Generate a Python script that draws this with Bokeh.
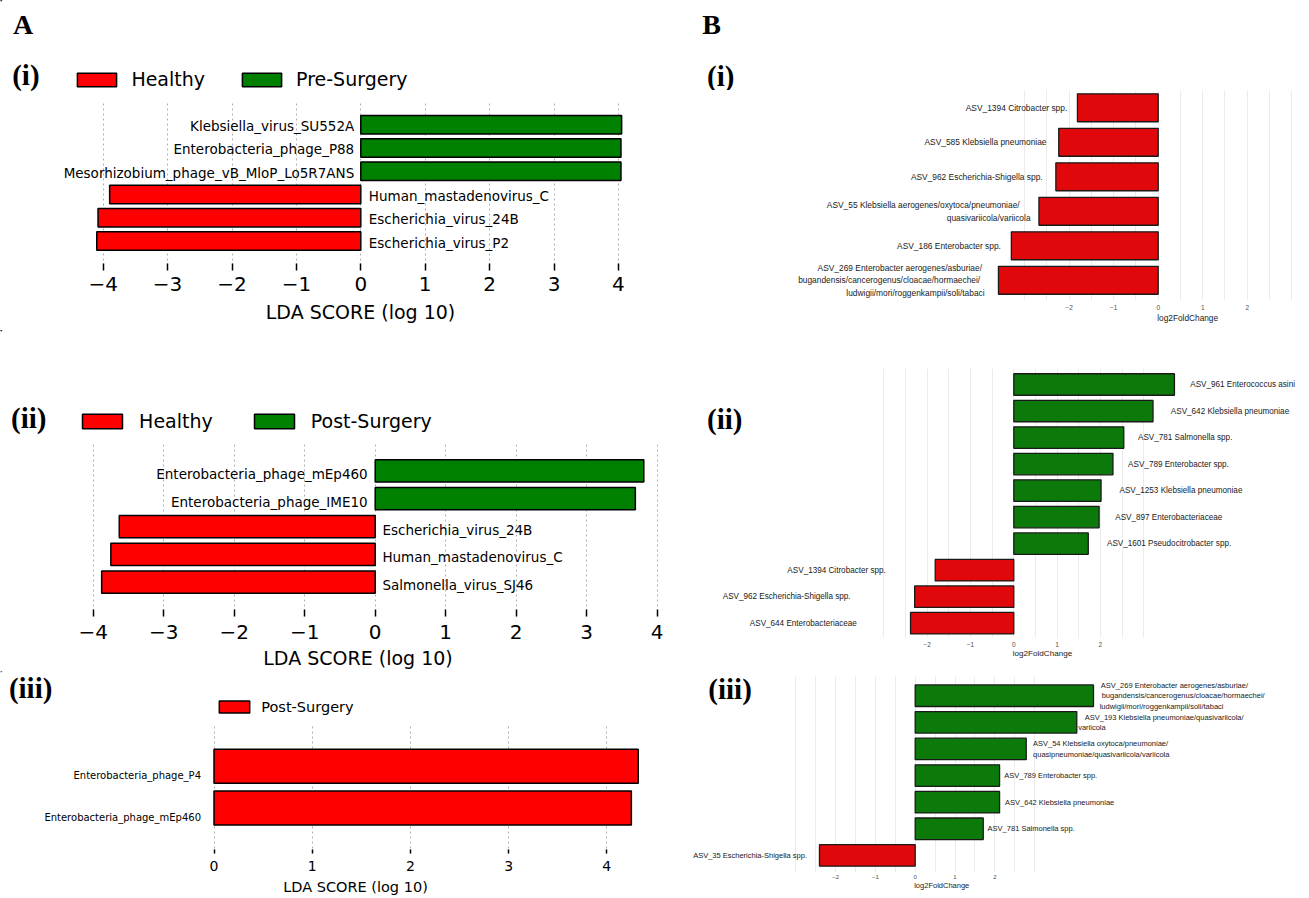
from bokeh.plotting import figure
from bokeh.layouts import row, column
from bokeh.models import (ColumnDataSource, FixedTicker, Label, Legend, LegendItem,
                          CustomJSTickFormatter, Range1d, Title)
from bokeh.core.properties import value
from bokeh.embed import file_html
from bokeh.resources import INLINE

# ======================= data =======================
# A: LEfSe LDA scores
a1_taxa = ["Klebsiella_virus_SU552A", "Enterobacteria_phage_P88",
           "Mesorhizobium_phage_vB_MloP_Lo5R7ANS", "Human_mastadenovirus_C",
           "Escherichia_virus_24B", "Escherichia_virus_P2"]
a1_lda = [4.05, 4.04, 4.04, -3.90, -4.08, -4.10]
a1_classes = ["Healthy", "Pre-Surgery"]

a2_taxa = ["Enterobacteria_phage_mEp460", "Enterobacteria_phage_IME10",
           "Escherichia_virus_24B", "Human_mastadenovirus_C", "Salmonella_virus_SJ46"]
a2_lda = [3.81, 3.69, -3.63, -3.75, -3.88]
a2_classes = ["Healthy", "Post-Surgery"]

a3_taxa = ["Enterobacteria_phage_P4", "Enterobacteria_phage_mEp460"]
a3_lda = [4.32, 4.25]
a3_classes = ["Post-Surgery"]

lda_ticks = [-4, -3, -2, -1, 0, 1, 2, 3, 4]
lda_ticks_pos = [0, 1, 2, 3, 4]

# B: log2 fold changes
b1_asv = ["ASV_1394 Citrobacter spp.",
          "ASV_585 Klebsiella pneumoniae",
          "ASV_962 Escherichia-Shigella spp.",
          "ASV_55 Klebsiella aerogenes/oxytoca/pneumoniae/\nquasivariicola/variicola",
          "ASV_186 Enterobacter spp.",
          "ASV_269 Enterobacter aerogenes/asburiae/\nbugandensis/cancerogenus/cloacae/hormaechei/\nludwigii/mori/roggenkampii/soli/tabaci"]
b1_lfc = [-1.815, -2.235, -2.30, -2.68, -3.30, -3.59]

b2_asv = ["ASV_961 Enterococcus asini",
          "ASV_642 Klebsiella pneumoniae",
          "ASV_781 Salmonella spp.",
          "ASV_789 Enterobacter spp.",
          "ASV_1253 Klebsiella pneumoniae",
          "ASV_897 Enterobacteriaceae",
          "ASV_1601 Pseudocitrobacter spp.",
          "ASV_1394 Citrobacter spp.",
          "ASV_962 Escherichia-Shigella spp.",
          "ASV_644 Enterobacteriaceae"]
b2_lfc = [3.71, 3.215, 2.54, 2.29, 2.015, 1.97, 1.72, -1.815, -2.29, -2.385]

b3_asv = ["ASV_269 Enterobacter aerogenes/asburiae/\nbugandensis/cancerogenus/cloacae/hormaechei/\nludwigii/mori/roggenkampii/soli/tabaci",
          "ASV_193 Klebsiella pneumoniae/quasivariicola/\nvariicola",
          "ASV_54 Klebsiella oxytoca/pneumoniae/\nquasipneumoniae/quasivariicola/variicola",
          "ASV_789 Enterobacter spp.",
          "ASV_642 Klebsiella pneumoniae",
          "ASV_781 Salmonella spp.",
          "ASV_35 Escherichia-Shigella spp."]
b3_lfc = [4.48, 4.06, 2.79, 2.12, 2.12, 1.71, -2.405]

lfc_ticks = [-2, -1, 0, 1, 2]
lfc_grid = [-3, -2.5, -2, -1.5, -1, -0.5, 0, 0.5, 1, 1.5, 2, 2.5, 3]

# ======================= style =======================
RED_A, GREEN_A = "#ff0000", "#008000"
RED_B, GREEN_B = "#e0080a", "#0b7a0b"
SANS_A = "DejaVu Sans"
SANS_B = "Liberation Sans"
SERIF = "Liberation Serif"
BASE_FIX = 8  # renderer places serif labels slightly low; compensate

ARIAL = {}
for chars, wd in [("abdeghnopqu0123456789_L", 556), ("cksvxyzJ", 500), ("ftI ./", 278),
                  ("ijl", 222), ("mM", 833), ("r-()", 333), ("wCDHNRU", 722),
                  ("ABEKPSVXY", 667), ("GOQ", 778), ("FTZ", 611), ("W", 944)]:
    for c in chars:
        ARIAL[c] = wd


def w_arial(s, size):
    return sum(ARIAL.get(c, 556) for c in s) / 1000.0 * size


def no_align(p):
    try:
        p.frame_align = False
    except Exception:
        pass


def make_panel(origin, size, frame, zero_x, unit_x, top_center, top_idx, unit_y):
    ox, oy = origin
    W, H = size
    fl, ft, fr, fb = frame
    xr = Range1d((fl - zero_x) / unit_x, (fr - zero_x) / unit_x)
    yr = Range1d(top_idx - (fb - top_center) / unit_y, top_idx + (top_center - ft) / unit_y)
    p = figure(width=W, height=H, x_range=xr, y_range=yr, title=None,
               min_border_left=int(round(fl - ox)), min_border_right=int(round(ox + W - fr)),
               min_border_top=int(round(ft - oy)), min_border_bottom=int(round(oy + H - fb)),
               toolbar_location=None, tools="", output_backend="svg",
               y_axis_location=None)
    no_align(p)
    p.outline_line_color = None
    p.background_fill_color = "white"
    p.border_fill_color = "white"
    for g in p.ygrid:
        g.visible = False
    p.xaxis.axis_line_color = None
    p.xaxis.minor_tick_line_color = None
    return p


def make_header(size):
    W, H = size
    p = figure(width=W, height=H, x_range=Range1d(0, W), y_range=Range1d(H, 0), title=None,
               min_border_left=0, min_border_right=0, min_border_top=0, min_border_bottom=0,
               x_axis_location=None, y_axis_location=None,
               toolbar_location=None, tools="", output_backend="svg")
    no_align(p)
    p.outline_line_color = None
    p.background_fill_color = "white"
    p.border_fill_color = "white"
    for g in list(p.xgrid) + list(p.ygrid):
        g.visible = False
    return p


def corner_hdr(p, origin, text, x, baseline, size):
    ox, oy = origin
    p.add_layout(Label(x=x - ox, y=baseline - oy - BASE_FIX, text=text, text_font=SERIF,
                       text_font_style="bold", text_font_size=size,
                       text_baseline="alphabetic", text_align="left", text_color="black"))


def corner_frame(p, frame, text, x, baseline, size):
    fl, ft, fr, fb = frame
    p.add_layout(Label(x=x - fl, y=fb - baseline + BASE_FIX, x_units="screen", y_units="screen",
                       text=text, text_font=SERIF, text_font_style="bold",
                       text_font_size=size, text_baseline="alphabetic", text_align="left",
                       text_color="black"))


def legend_hdr(p, origin, size, classes, colors, patch_x, patch_cy, pw, ph,
               standoff, spacing, font_size, lab_h):
    ox, oy = origin
    W, H = size
    items = []
    for cls, col in zip(classes, colors):
        # legend-only renderer: its single bar lies far outside the visible range
        dummy = p.hbar(y="y", left=0, right="v", height=1,
                       source=ColumnDataSource(dict(y=[-1000], v=[1])),
                       fill_color=col, line_color="black", line_width=1.5)
        items.append(LegendItem(label=cls, renderers=[dummy]))
    gx = patch_x - pw * 0.125 - ox
    bottom = (patch_cy - oy) + lab_h / 2.0
    leg = Legend(items=items, orientation="horizontal", location=(gx, H - bottom),
                 glyph_width=int(round(pw * 1.25)), glyph_height=int(round(ph * 1.25)),
                 label_standoff=standoff, spacing=spacing, padding=0, margin=0,
                 border_line_color=None, background_fill_alpha=0,
                 label_text_font=SANS_A, label_text_font_size=font_size,
                 label_text_color="black", label_height=int(lab_h))
    p.add_layout(leg)


minus_fmt = "return tick < 0 ? '\u2212' + Math.abs(tick) : String(tick);"


def a_panel(p, taxa, vals, colors, ticks, lab_size, neg_off, pos_off, yoff,
            tick_in, tick_size, title_size, tick_standoff, title_standoff, height):
    n = len(taxa)
    ys = [n - i for i in range(n)]
    neg = dict(y=[y for y, v in zip(ys, vals) if v < 0], v=[v for v in vals if v < 0])
    pos = dict(y=[y for y, v in zip(ys, vals) if v >= 0], v=[v for v in vals if v >= 0])
    if neg["y"]:
        p.hbar(y="y", left=0, right="v", height=height, source=ColumnDataSource(neg),
               fill_color=colors[0], line_color="black", line_width=1.5)
    if pos["y"]:
        p.hbar(y="y", left=0, right="v", height=height, source=ColumnDataSource(pos),
               fill_color=colors[-1], line_color="black", line_width=1.5)
    lt = dict(x=[0] * len(neg["y"]), y=neg["y"], t=[t for t, v in zip(taxa, vals) if v < 0])
    rt = dict(x=[0] * len(pos["y"]), y=pos["y"], t=[t for t, v in zip(taxa, vals) if v >= 0])
    if lt["y"]:
        p.text(x="x", y="y", text="t", source=ColumnDataSource(lt), x_offset=neg_off, y_offset=yoff,
               text_align="left", text_baseline="middle", text_font=value(SANS_A),
               text_font_size=value(lab_size), text_color="black")
    if rt["y"]:
        p.text(x="x", y="y", text="t", source=ColumnDataSource(rt), x_offset=pos_off, y_offset=yoff,
               text_align="right", text_baseline="middle", text_font=value(SANS_A),
               text_font_size=value(lab_size), text_color="black")
    ax = p.xaxis[0]
    ax.ticker = FixedTicker(ticks=ticks)
    ax.formatter = CustomJSTickFormatter(code=minus_fmt)
    ax.major_tick_in = tick_in
    ax.major_tick_out = 0
    ax.major_tick_line_color = "black"
    ax.major_tick_line_width = 1.5
    ax.major_label_text_font = SANS_A
    ax.major_label_text_font_size = tick_size
    ax.major_label_text_color = "black"
    ax.major_label_standoff = tick_standoff
    ax.axis_label = "LDA SCORE (log 10)"
    ax.axis_label_text_font = SANS_A
    ax.axis_label_text_font_size = title_size
    ax.axis_label_text_font_style = "normal"
    ax.axis_label_text_color = "black"
    ax.axis_label_standoff = title_standoff
    g = p.xgrid[0]
    g.ticker = FixedTicker(ticks=ticks)
    g.grid_line_color = "#b0b0b0"
    g.grid_line_dash = "2 3"
    g.grid_line_width = 1


def b_panel(p, labels, vals, size, lh, fneg, fpos, tick_size, tick_standoff,
            title_size, title_offset, title_standoff):
    n = len(labels)
    ys = [n - i for i in range(n)]
    neg = dict(y=[y for y, v in zip(ys, vals) if v < 0], v=[v for v in vals if v < 0])
    pos = dict(y=[y for y, v in zip(ys, vals) if v >= 0], v=[v for v in vals if v >= 0])
    if neg["y"]:
        p.hbar(y="y", left=0, right="v", height=0.81, source=ColumnDataSource(neg),
               fill_color=RED_B, line_color="#1a1a1a", line_width=1.3)
    if pos["y"]:
        p.hbar(y="y", left=0, right="v", height=0.81, source=ColumnDataSource(pos),
               fill_color=GREEN_B, line_color="#1a1a1a", line_width=1.3)
    L = dict(x=[], y=[], t=[], xo=[], yo=[])
    R = dict(x=[], y=[], t=[], xo=[], yo=[])
    for y, lab, v in zip(ys, labels, vals):
        lines = lab.split("\n")
        k = len(lines)
        for j, line in enumerate(lines):
            yo = (j - (k - 1) / 2.0) * lh
            if v < 0:
                d, xo = R, -fneg * w_arial(line, size)
            else:
                d, xo = L, fpos * w_arial(line, size)
            d["x"].append(v); d["y"].append(y); d["t"].append(line)
            d["xo"].append(xo); d["yo"].append(yo)
    for d, al in [(L, "left"), (R, "right")]:
        if d["y"]:
            p.text(x="x", y="y", text="t", x_offset="xo", y_offset="yo",
                   source=ColumnDataSource(d), text_align=al, text_baseline="middle",
                   text_font=value(SANS_B), text_font_size=value(f"{size}px"),
                   text_color="#1a1a1a")
    ax = p.xaxis[0]
    ax.ticker = FixedTicker(ticks=lfc_ticks)
    ax.major_tick_in = 0
    ax.major_tick_out = 0
    ax.major_tick_line_color = None
    ax.major_label_text_font = SANS_B
    ax.major_label_text_font_size = tick_size
    ax.major_label_text_color = "#4d4d4d"
    ax.major_label_standoff = tick_standoff
    g = p.xgrid[0]
    g.ticker = FixedTicker(ticks=lfc_grid)
    g.grid_line_color = "#ebebeb"
    g.grid_line_width = 1
    p.add_layout(Title(text="log2FoldChange", align="left", offset=title_offset,
                       standoff=title_standoff, text_font=SANS_B, text_font_size=title_size,
                       text_font_style="normal", text_color="#1a1a1a"), "below")


# ======================= A (i) =======================
ha1_o, ha1_s = (0, 0), (690, 100)
ha1 = make_header(ha1_s)
corner_hdr(ha1, ha1_o, "A", 12.6, 31.7, "28px")
corner_hdr(ha1, ha1_o, "(i)", 11.7, 82, "29px")
legend_hdr(ha1, ha1_o, ha1_s, a1_classes, [RED_A, GREEN_A], 77.3, 79.2, 39.4, 13.7,
           10, 32, "19px", 22)

fa1 = (40, 100, 680, 270)
pa1 = make_panel((0, 100), (690, 230), fa1, 360.3, 64.4, 124.2, 6, 23.26)
a_panel(pa1, a1_taxa, a1_lda, [RED_A, GREEN_A], lda_ticks, "13.5px",
        8, -6.6, 1.5, 7, "20px", "19px", 6, 7, 0.79)

# ======================= A (ii) =======================
ha2_o, ha2_s = (0, 330), (690, 113)
ha2 = make_header(ha2_s)
corner_hdr(ha2, ha2_o, "(ii)", 10.5, 425, "29px")
legend_hdr(ha2, ha2_o, ha2_s, a2_classes, [RED_A, GREEN_A], 82.1, 420.5, 40, 14.4,
           12, 36, "19px", 22)

fa2 = (30, 443, 685, 617)
pa2 = make_panel((0, 443), (690, 228), fa2, 374.7, 70.5, 470.5, 5, 28.0)
a_panel(pa2, a2_taxa, a2_lda, [RED_A, GREEN_A], lda_ticks, "13.5px",
        7.2, -7.5, 3, 7, "20px", "19px", 8, 5, 0.8)

# ======================= A (iii) =======================
ha3_o, ha3_s = (0, 671), (690, 52)
ha3 = make_header(ha3_s)
corner_hdr(ha3, ha3_o, "(iii)", 8.4, 695, "29px")
legend_hdr(ha3, ha3_o, ha3_s, a3_classes, [RED_A], 219, 706.7, 30, 12,
           8, 20, "14.5px", 17)

fa3 = (30, 723, 680, 853)
pa3 = make_panel((0, 723), (690, 174), fa3, 213.5, 98.2, 765.7, 2, 41.8)
a_panel(pa3, a3_taxa, a3_lda, [RED_A], lda_ticks_pos, "10px",
        8, -13, 9, 4, "14px", "14.5px", 7, 5, 0.81)

# ======================= B (i) =======================
hb1_o, hb1_s = (690, 0), (617, 90)
hb1 = make_header(hb1_s)
corner_hdr(hb1, hb1_o, "B", 701.8, 31.7, "28px")
corner_hdr(hb1, hb1_o, "(i)", 706.6, 83, "29px")

fb1 = (700, 90, 1297, 300)
pb1 = make_panel((690, 90), (617, 240), fb1, 1157.7, 44.5, 107.3, 6, 34.5)
b_panel(pb1, b1_asv, b1_lfc, 8.4, 12.4, 0.1, 0.1, "6.5px", 4, "8.3px",
        1157.7 - 700 - 1, -4.5)

# ======================= B (ii) =======================
fb2 = (700, 368, 1300, 637)
pb2 = make_panel((690, 330), (617, 340), fb2, 1013.3, 43.3, 384, 10, 26.52)
b_panel(pb2, b2_asv, b2_lfc, 8.15, 12, 0.5, 0.15, "6.5px", 4, "8.1px",
        1013.3 - 700 - 1, -6)
corner_frame(pb2, fb2, "(ii)", 706.6, 426, "29px")

# ======================= B (iii) =======================
fb3 = (692, 676, 1300, 872)
pb3 = make_panel((690, 670), (617, 227), fb3, 914.7, 39.8, 695.2, 7, 26.62)
b_panel(pb3, b3_asv, b3_lfc, 7.5, 10.5, 0.11, 0.05, "6px", 2, "7.5px",
        914.7 - 692 - 1, -5)
corner_frame(pb3, fb3, "(iii)", 707.8, 696, "29px")

layout = row(column(ha1, pa1, ha2, pa2, ha3, pa3), column(hb1, pb1, pb2, pb3))
open("out.html", "w").write(file_html(layout, INLINE))
